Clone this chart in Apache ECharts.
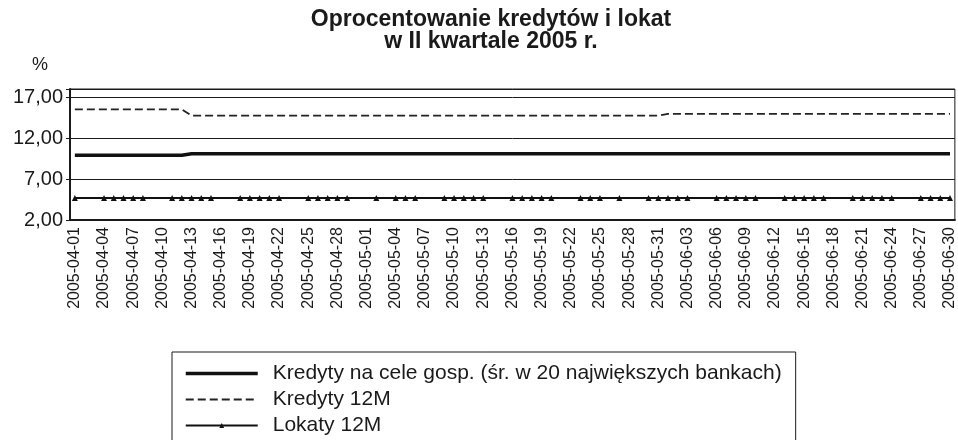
<!DOCTYPE html>
<html>
<head>
<meta charset="utf-8">
<script src="https://cdn.jsdelivr.net/npm/echarts@6/dist/echarts.min.js"></script>
<style>
  html, body { margin: 0; padding: 0; background: #fff; }
  #chart { width: 958px; height: 440px; }
</style>
</head>
<body>
<div id="chart"></div>
<script>
// dni od 2005-04-01 do 2005-06-30 (91 dni, tydzien zaczyna sie w piatek)
const dayCount = 91
const days = []
for (let i = 0; i < dayCount; i++) {
  const d = new Date(Date.UTC(2005, 3, 1 + i))
  days.push(d.toISOString().slice(0, 10))
}

// wiersze po 7 dni: Pt, Sob, Nd, Pn, Wt, Sr, Czw  (null = brak notowania)
const kredytyGosp = [
  9.9, null, null, 9.9, 9.9, 9.9, 9.9,
  9.9, null, null, 9.9, 9.9, 10.1, 10.1,
  10.1, null, null, 10.1, 10.1, 10.1, 10.1,
  10.1, null, null, 10.1, 10.1, 10.1, 10.1,
  10.1, null, null, 10.1, null, 10.1, 10.1,
  10.1, null, null, 10.1, 10.1, 10.1, 10.1,
  10.1, null, null, 10.1, 10.1, 10.1, 10.1,
  10.1, null, null, 10.1, 10.1, 10.1, null,
  10.1, null, null, 10.1, 10.1, 10.1, 10.1,
  10.1, null, null, 10.1, 10.1, 10.1, 10.1,
  10.1, null, null, 10.1, 10.1, 10.1, 10.1,
  10.1, null, null, 10.1, 10.1, 10.1, 10.1,
  10.1, null, null, 10.1, 10.1, 10.1, 10.1
]

const kredyty12M = [
  15.5, null, null, 15.5, 15.5, 15.5, 15.5,
  15.5, null, null, 15.5, 15.5, 14.75, 14.75,
  14.75, null, null, 14.75, 14.75, 14.75, 14.75,
  14.75, null, null, 14.75, 14.75, 14.75, 14.75,
  14.75, null, null, 14.75, null, 14.75, 14.75,
  14.75, null, null, 14.75, 14.75, 14.75, 14.75,
  14.75, null, null, 14.75, 14.75, 14.75, 14.75,
  14.75, null, null, 14.75, 14.75, 14.75, null,
  14.75, null, null, 14.75, 14.75, 14.95, 14.95,
  14.95, null, null, 14.95, 14.95, 14.95, 14.95,
  14.95, null, null, 14.95, 14.95, 14.95, 14.95,
  14.95, null, null, 14.95, 14.95, 14.95, 14.95,
  14.95, null, null, 14.95, 14.95, 14.95, 14.95
]

const lokaty12M = [
  4.7, null, null, 4.7, 4.7, 4.7, 4.7,
  4.7, null, null, 4.7, 4.7, 4.7, 4.7,
  4.7, null, null, 4.7, 4.7, 4.7, 4.7,
  4.7, null, null, 4.7, 4.7, 4.7, 4.7,
  4.7, null, null, 4.7, null, 4.7, 4.7,
  4.7, null, null, 4.7, 4.7, 4.7, 4.7,
  4.7, null, null, 4.7, 4.7, 4.7, 4.7,
  4.7, null, null, 4.7, 4.7, 4.7, null,
  4.7, null, null, 4.7, 4.7, 4.7, 4.7,
  4.7, null, null, 4.7, 4.7, 4.7, 4.7,
  4.7, null, null, 4.7, 4.7, 4.7, 4.7,
  4.7, null, null, 4.7, 4.7, 4.7, 4.7,
  4.7, null, null, 4.7, 4.7, 4.7, 4.7
]

const seriesNames = [
  'Kredyty na cele gosp. (śr. w 20 największych bankach)',
  'Kredyty 12M',
  'Lokaty 12M'
]
const yTicks = [2, 7, 12, 17]

const font = "'Liberation Sans', Arial, sans-serif"
const ink = '#1a1a1a'

const chart = echarts.init(document.getElementById('chart'))

chart.setOption({
  animation: false,
  backgroundColor: '#fff',
  textStyle: { fontFamily: font, color: ink },
  title: {
    text: 'Oprocentowanie kredytów i lokat\nw II kwartale 2005 r.',
    left: 486,
    top: 4,
    textAlign: 'center',
    textStyle: { fontFamily: font, fontSize: 23, fontWeight: 'bold', color: ink, lineHeight: 22 }
  },
  grid: {
    left: 70,
    right: 2,
    top: 89,
    bottom: 220,
    show: true,
    borderColor: ink,
    borderWidth: 1
  },
  legend: {
    orient: 'vertical',
    left: 172,
    top: 352,
    height: 160,
    itemWidth: 72,
    itemHeight: 6,
    itemGap: 5,
    padding: [11, 14, 40, 12],
    borderColor: ink,
    borderWidth: 1,
    textStyle: { fontFamily: font, fontSize: 21, color: ink, padding: [0, 0, 0, 10] },
    data: [
      { name: seriesNames[0], itemStyle: { opacity: 0 }, lineStyle: { width: 3.5 } },
      { name: seriesNames[1], itemStyle: { opacity: 0 } },
      { name: seriesNames[2] }
    ]
  },
  xAxis: {
    type: 'category',
    data: days,
    boundaryGap: true,
    axisLine: { lineStyle: { color: ink, width: 2 } },
    axisTick: { interval: 2, length: 4, lineStyle: { color: ink } },
    axisLabel: {
      interval: 2,
      rotate: 90,
      margin: 7,
      fontSize: 16,
      color: ink,
      padding: [0, 0, 10, 0]
    },
    splitLine: { show: false }
  },
  yAxis: {
    type: 'value',
    min: 2,
    max: 18,
    interval: 5,
    name: '%',
    nameLocation: 'end',
    nameGap: 15,
    nameTextStyle: { fontSize: 18, color: ink, align: 'right', padding: [0, 22, 0, 0] },
    axisLine: { show: true, lineStyle: { color: ink, width: 2 } },
    axisTick: { show: true, length: 4, lineStyle: { color: ink } },
    axisLabel: {
      fontSize: 20,
      color: ink,
      margin: 7,
      formatter: v => (yTicks.indexOf(v) >= 0 ? v.toFixed(2).replace('.', ',') : '')
    },
    splitLine: { lineStyle: { color: ink, width: 1 } }
  },
  series: [
    {
      name: seriesNames[0],
      type: 'line',
      data: kredytyGosp,
      connectNulls: true,
      symbol: 'none',
      lineStyle: { color: '#111', width: 3.5 },
      itemStyle: { color: '#111' }
    },
    {
      name: seriesNames[1],
      type: 'line',
      data: kredyty12M,
      connectNulls: true,
      symbol: 'none',
      lineStyle: { color: '#222', width: 1.8, type: [8, 4] },
      itemStyle: { color: '#222' }
    },
    {
      name: seriesNames[2],
      type: 'line',
      data: lokaty12M,
      connectNulls: true,
      symbol: 'triangle',
      symbolSize: 6,
      showAllSymbol: true,
      lineStyle: { color: '#111', width: 2 },
      itemStyle: { color: '#111' }
    }
  ]
})
</script>
</body>
</html>
